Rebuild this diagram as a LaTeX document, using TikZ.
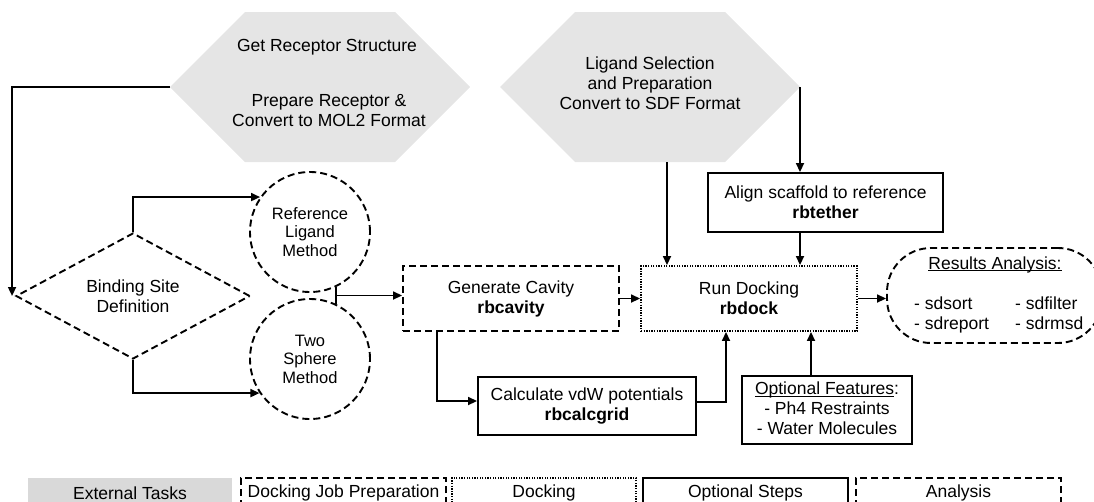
\documentclass[tikz,border=0pt]{standalone}
\usepackage{fontspec}
\setmainfont{Liberation Sans}
\usetikzlibrary{arrows.meta,shapes.geometric,calc}
\newcommand\ulw[1]{\underline{\smash{#1}}}
\begin{document}
\begin{tikzpicture}[x=1pt,y=-1pt,
  txt/.style={font=\fontsize{17.5}{20}\selectfont, align=center, inner sep=0pt},
  small/.style={font=\fontsize{16.5}{18.5}\selectfont, align=center, inner sep=0pt},
  frame/.style={draw, line width=1.9pt, txt},
  prepline/.style={dash pattern=on 7pt off 4pt},
  dockline/.style={dash pattern=on 1.3pt off 1.3pt},
  prepbox/.style={frame, prepline},
  dockbox/.style={frame, dockline},
  solidbox/.style={frame},
  hexfill/.style={fill=black!10},
  arr/.style={draw, line width=1.7pt, -{Triangle[length=9pt,width=8pt]}},
  legend/.style={txt, minimum height=30pt}
]
\useasboundingbox (0,0) rectangle (1094,501);
\clip (0,0) rectangle (1094,501);

% external tasks: receptor and ligand preparation
\fill[hexfill] (170,87) -- (245,12) -- (395,12) -- (470,87) -- (395,162) -- (245,162) -- cycle;
\fill[hexfill] (500,87) -- (575,12) -- (725,12) -- (800,87) -- (725,162) -- (575,162) -- cycle;
\node[txt] (getrec) at (327,47) {Get Receptor Structure};
\node[txt] (preprec) at (329,111) {Prepare Receptor \&\\Convert to MOL2 Format};
\node[txt] (lig) at (650,83) {Ligand Selection\\and Preparation\\Convert to SDF Format};
\coordinate (recW) at (170,87);
\coordinate (ligS) at (667,162);
\coordinate (ligE) at (800,87);

% binding site definition
\node[diamond, draw, line width=1.9pt, prepline, shape aspect=1.86,
      minimum width=234pt, minimum height=126pt, txt] (site) at (133,296) {Binding Site\\Definition};
\node[circle, draw, line width=1.9pt, prepline, minimum size=120pt, small] (refc) at (310,232) {Reference\\Ligand\\Method};
\node[circle, draw, line width=1.9pt, prepline, minimum size=120pt, small] (twoc) at (310,359) {Two\\Sphere\\Method};

% docking steps
\node[prepbox, minimum width=216pt, minimum height=65pt] (cav) at (511,298.5) {Generate Cavity\\\textbf{rbcavity}};
\node[dockbox, minimum width=216pt, minimum height=65pt] (dock) at (749,298.5) {Run Docking\\\textbf{rbdock}};
\node[solidbox, minimum width=235pt, minimum height=59pt] (align) at (825.5,202.5) {Align scaffold to reference\\\textbf{rbtether}};
\node[solidbox, minimum width=218pt, minimum height=58pt] (calc) at (587,406) {Calculate vdW potentials\\\textbf{rbcalcgrid}};
\node[solidbox, minimum width=170pt, minimum height=68pt] (opt) at (827,410) {\ulw{Optional Features}:\\- Ph4 Restraints\\- Water Molecules};

% results analysis
\node[frame, prepline, rounded corners=44pt, minimum width=215pt, minimum height=95pt] (res) at (994.5,295.5) {};
\node[txt] (resT) at (995,270) {\ulw{Results Analysis:}};
\node[txt, anchor=base west] (r1) at (914,309) {- sdsort};
\node[txt, anchor=base west] (r2) at (914,329) {- sdreport};
\node[txt, anchor=base west] (r3) at (1015,309) {- sdfilter};
\node[txt, anchor=base west] (r4) at (1015,329) {- sdrmsd};

% connectors
\draw[arr] (recW) -| ([xshift=-3pt]site.west);
\draw[arr] (site.north) |- (refc.145.5);
\draw[arr] (site.south) |- (twoc.214.5);
\draw[line width=1.7pt] (refc.-65.4) -- (twoc.65.4);
\coordinate (join) at ($(refc.-65.4)!0.5!(twoc.65.4)$);
\draw[arr] (join) -- (join -| cav.west);
\draw[arr] (cav) -- (dock);
\draw[arr] (ligS) -- (ligS |- dock.north);
\draw[arr] (ligE) -- (ligE |- align.north);
\draw[arr] (ligE |- align.south) -- (ligE |- dock.north);
\coordinate (cx) at (437,0);
\coordinate (calcIn) at ($(calc.west)+(0,-5)$);
\draw[arr] (cav.south -| cx) |- (calcIn);
\coordinate (dx) at (726,0);
\coordinate (calcOut) at ($(calc.east)+(0,-4)$);
\draw[arr] (calcOut) -| (dx |- dock.south);
\coordinate (ox) at (811,0);
\draw[arr] (opt.north -| ox) -- (ox |- dock.south);
\draw[arr] (dock.east) -- (dock.east -| res.west);

% legend
\node[legend, fill=black!15, minimum width=204pt] (lgExt) at (130,493) {External Tasks};
\node[legend, draw, line width=1.9pt, prepline, minimum width=205pt] (lgPrep) at (343.5,493) {Docking Job Preparation};
\node[legend, draw, line width=1.9pt, dockline, minimum width=184pt] (lgDock) at (544,493) {Docking};
\node[legend, draw, line width=1.9pt, minimum width=205pt] (lgOpt) at (745.5,493) {Optional Steps};
\node[legend, draw, line width=1.9pt, prepline, minimum width=205pt] (lgAna) at (958.5,493) {Analysis};
\end{tikzpicture}
\end{document}
